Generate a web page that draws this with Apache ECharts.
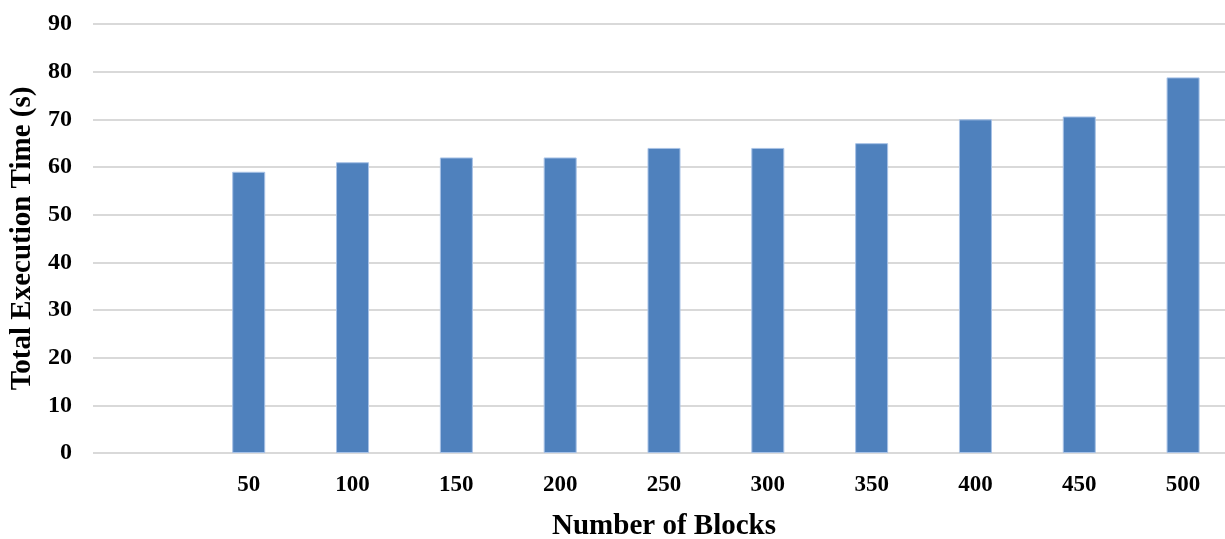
<!DOCTYPE html>
<html>
<head>
<meta charset="utf-8">
<script src="https://cdn.jsdelivr.net/npm/echarts@6/dist/echarts.min.js"></script>
<style>html,body{margin:0;padding:0;background:#fff;}#c{width:1225px;height:539px;}</style>
</head>
<body>
<div id="c"></div>
<script>
const categories = ['', '50', '100', '150', '200', '250', '300', '350', '400', '450', '500'];
const times = [null, 59, 61, 62, 62, 64, 64, 65, 70, 70.6, 78.8];
const yTicks = { min: 0, max: 90, interval: 10 };

const chart = echarts.init(document.getElementById('c'), null, { renderer: 'canvas' });
const font = '"Liberation Serif", "Times New Roman", serif';
chart.setOption({
  animation: false,
  grid: { left: 93, right: -10, top: 24, bottom: 86, containLabel: false, outerBoundsMode: 'none' },
  xAxis: {
    type: 'category',
    data: categories,
    name: 'Number of Blocks',
    nameLocation: 'middle',
    nameGap: 59,
    nameTextStyle: { fontFamily: font, fontWeight: 'bold', fontSize: 29, color: '#000' },
    axisLine: { show: false },
    axisTick: { show: false },
    axisLabel: { fontFamily: font, fontWeight: 'bold', fontSize: 23, color: '#000', margin: 21 }
  },
  yAxis: {
    type: 'value',
    min: yTicks.min, max: yTicks.max, interval: yTicks.interval,
    name: 'Total Execution Time (s)',
    nameLocation: 'middle',
    nameGap: 56,
    nameTextStyle: { fontFamily: font, fontWeight: 'bold', fontSize: 29, color: '#000' },
    axisLine: { show: false },
    axisTick: { show: false },
    axisLabel: { fontFamily: font, fontWeight: 'bold', fontSize: 24, color: '#000', margin: 21 },
    splitLine: { lineStyle: { color: '#d9d9d9', width: 2 } }
  },
  series: [{
    type: 'bar',
    data: times,
    barWidth: 33,
    itemStyle: { color: '#4F81BD', borderColor: '#a8c2e6', borderWidth: 1 }
  }]
});
</script>
</body>
</html>
